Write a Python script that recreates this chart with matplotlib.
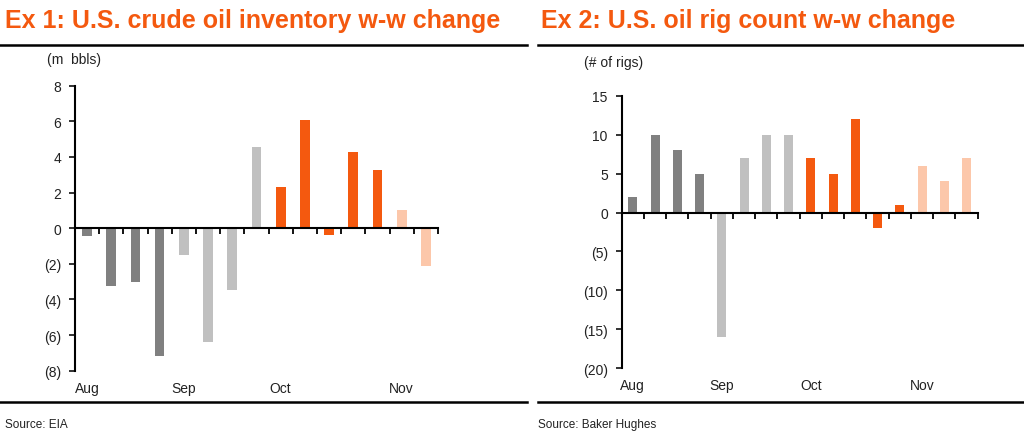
import matplotlib.pyplot as plt
from matplotlib.lines import Line2D
from matplotlib.ticker import FuncFormatter
import numpy as np

plt.rcParams['font.family'] = ['Liberation Sans', 'DejaVu Sans']

# datos: cambio semanal de inventario (m bbls) y de taladros
inv_vals = [-0.45, -3.25, -3.0, -7.15, -1.5, -6.4, -3.45, 4.55, 2.3, 6.05, -0.4, 4.25, 3.25, 1.0, -2.1]
inv_grp = [0, 0, 0, 0, 1, 1, 1, 1, 2, 2, 2, 2, 2, 3, 3]
inv_months = ['Aug', 'Sep', 'Oct', 'Nov']
inv_month_pos = [0, 4, 8, 13]

rig_vals = [2, 10, 8, 5, -16, 7, 10, 10, 7, 5, 12, -2, 1, 6, 4, 7]
rig_grp = [0, 0, 0, 0, 1, 1, 1, 1, 2, 2, 2, 2, 2, 3, 3, 3]
rig_months = ['Aug', 'Sep', 'Oct', 'Nov']
rig_month_pos = [0, 4, 8, 13]

colores = ['#808080', '#c0c0c0', '#f4590f', '#fcc7aa']
naranja = '#f4590f'


def paren(v, pos):
    if v < 0:
        return '(%d)' % abs(v)
    return '%d' % v


def panel(ax, vals, grp, months, mpos, ylim, yticks, month_y):
    n = len(vals)
    x = np.arange(n)
    ax.bar(x, vals, width=0.4, color=[colores[g] for g in grp], zorder=2)
    ax.set_xlim(-0.5, n - 0.5)
    ax.set_ylim(*ylim)
    ax.set_yticks(yticks)
    ax.yaxis.set_major_formatter(FuncFormatter(paren))
    ax.spines['top'].set_visible(False)
    ax.spines['right'].set_visible(False)
    ax.spines['bottom'].set_position(('data', 0))
    ax.spines['left'].set_linewidth(1.5)
    ax.spines['bottom'].set_linewidth(1.5)
    ax.set_xticks(np.arange(n + 1) - 0.5)
    ax.set_xticklabels([])
    ax.tick_params(axis='x', direction='out', length=4, width=1.3, bottom=True, top=False)
    ax.tick_params(axis='y', direction='out', length=4, width=1.3, labelsize=10, colors='#222222', pad=6)
    for lab, p in zip(months, mpos):
        ax.text(p, month_y, lab, transform=ax.get_xaxis_transform(), ha='center', va='center',
                fontsize=10, color='#222222')


fig = plt.figure(figsize=(10.24, 4.35), dpi=100)

ax1 = fig.add_axes([0.0732, 0.1455, 0.3545, 0.6552])
panel(ax1, inv_vals, inv_grp, inv_months, inv_month_pos, (-8, 8), np.arange(-8, 9, 2), -0.06)

ax2 = fig.add_axes([0.6071, 0.151, 0.3477, 0.6267])
panel(ax2, rig_vals, rig_grp, rig_months, rig_month_pos, (-20, 15), np.arange(-20, 16, 5), -0.063)

# titulos
fig.text(0.005, 0.952, 'Ex 1: U.S. crude oil inventory w-w change', color=naranja,
         fontsize=18, fontweight='bold', va='center', ha='left')
fig.text(0.528, 0.952, 'Ex 2: U.S. oil rig count w-w change', color=naranja,
         fontsize=18, fontweight='bold', va='center', ha='left')

# unidades
fig.text(0.0459, 0.862, '(m  bbls)', fontsize=10, color='#222222', va='center')
fig.text(0.570, 0.855, '(# of rigs)', fontsize=10, color='#222222', va='center')

# lineas separadoras
for x0, x1 in [(0.0, 0.5146), (0.525, 1.0)]:
    fig.add_artist(Line2D([x0, x1], [0.8954, 0.8954], color='black', lw=1.8))
    fig.add_artist(Line2D([x0, x1], [0.0736, 0.0736], color='black', lw=1.8))

# fuentes
fig.text(0.005, 0.023, 'Source: EIA', fontsize=8.5, color='#222222', va='center')
fig.text(0.525, 0.023, 'Source: Baker Hughes', fontsize=8.5, color='#222222', va='center')

fig.savefig('out.png', dpi=100)
